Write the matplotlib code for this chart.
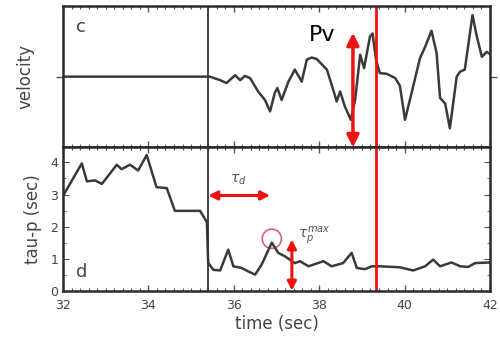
import matplotlib
matplotlib.use("Agg")
import matplotlib.pyplot as plt
from matplotlib.patches import Ellipse
from matplotlib.ticker import MultipleLocator

# ---- data ----
vel_t = [32.0, 35.40, 35.44, 35.68, 35.83, 36.03, 36.15, 36.26, 36.38, 36.57, 36.73, 36.85,
         36.96, 37.02, 37.12, 37.28, 37.43, 37.59, 37.71, 37.82, 37.94, 38.18, 38.33, 38.41,
         38.49, 38.60, 38.74, 38.84, 38.96, 39.05, 39.11, 39.19, 39.25, 39.33, 39.42, 39.58,
         39.78, 39.89, 40.01, 40.20, 40.36, 40.48, 40.63, 40.75, 40.83, 40.95, 41.06, 41.22,
         41.30, 41.41, 41.59, 41.69, 41.81, 41.92, 42.0]
vel_v = [0.0, 0.0, 0.0, -0.05, -0.09, 0.02, -0.05, 0.01, -0.02, -0.21, -0.33, -0.49,
         -0.23, -0.16, -0.33, -0.07, 0.10, -0.07, 0.24, 0.27, 0.25, 0.10, -0.19, -0.35,
         -0.21, -0.42, -0.61, -0.33, 0.31, 0.12, 0.31, 0.57, 0.61, 0.24, 0.05, 0.04,
         -0.02, -0.13, -0.61, -0.14, 0.26, 0.42, 0.65, 0.33, -0.30, -0.38, -0.73, 0.0,
         0.07, 0.10, 0.87, 0.57, 0.28, 0.35, 0.32]

tau_t = [32.0, 32.05, 32.44, 32.56, 32.75, 32.91, 33.26, 33.37, 33.57, 33.76, 33.96, 34.19,
         34.43, 34.62, 35.21, 35.37, 35.40, 35.52, 35.68, 35.87, 35.99, 36.18, 36.34, 36.50,
         36.65, 36.89, 37.04, 37.20, 37.43, 37.55, 37.75, 38.10, 38.29, 38.56, 38.76, 38.88,
         39.07, 39.23, 39.42, 39.89, 40.20, 40.48, 40.67, 40.83, 41.10, 41.30, 41.49, 41.65,
         42.0]
tau_v = [2.95, 3.07, 3.97, 3.41, 3.44, 3.33, 3.93, 3.79, 3.93, 3.75, 4.23, 3.23,
         3.20, 2.49, 2.49, 2.14, 0.87, 0.65, 0.63, 1.28, 0.76, 0.71, 0.60, 0.50,
         0.81, 1.50, 1.18, 1.07, 0.86, 0.92, 0.76, 0.92, 0.76, 0.86, 1.18, 0.71,
         0.67, 0.76, 0.76, 0.73, 0.63, 0.76, 0.97, 0.76, 0.88, 0.76, 0.74, 0.86,
         0.88]

x_ticks = [32, 34, 36, 38, 40, 42]
y_ticks = [0, 1, 2, 3, 4]
t_onset = 35.4
t_red = 39.33
t_pv = 38.79
pv_top, pv_bot = 0.62, -1.0
td_y = 2.97
td_end = 36.85
tp_x = 37.36
tp_top = 1.6
peak_t, peak_tau = 36.89, 1.62

line_col = "#3a3a3a"
red = "#ee1111"

fig = plt.figure(figsize=(5.0, 3.46), dpi=100)
ax1 = fig.add_axes([0.126, 0.574, 0.854, 0.409])
ax2 = fig.add_axes([0.126, 0.159, 0.854, 0.415])

for ax in (ax1, ax2):
    for s in ax.spines.values():
        s.set_linewidth(1.8)
        s.set_color("#2a2a2a")
    ax.set_xlim(32, 42)
    ax.xaxis.set_minor_locator(MultipleLocator(0.2))
    ax.tick_params(axis="x", which="both", direction="in", top=True, bottom=True,
                   color="#555555")
    ax.tick_params(axis="x", which="major", length=4, width=1)
    ax.tick_params(axis="x", which="minor", length=2, width=0.8)

# top panel
ax1.plot(vel_t, vel_v, color=line_col, lw=1.8)
ax1.set_ylim(-1.0, 1.0)
ax1.set_yticks([0])
ax1.set_yticklabels([])
ax1.tick_params(axis="y", direction="out", left=True, right=True, length=5, width=1,
                color="#555555")
ax1.set_xticklabels([])
ax1.axvline(t_onset, color="#333333", lw=1.3)
ax1.axvline(t_red, color=red, lw=2)
ax1.set_ylabel("velocity", fontsize=12, color="#444444", labelpad=12)
ax1.text(0.03, 0.85, "c", transform=ax1.transAxes, fontsize=13, color="#444444",
         ha="left", va="center")
ax1.text(37.75, 0.59, "Pv", fontsize=16, color="black", ha="left", va="center")
ax1.annotate("", xy=(t_pv, pv_top), xytext=(t_pv, pv_bot),
             arrowprops=dict(arrowstyle="<|-|>", color=red, lw=2.5,
                             mutation_scale=18, shrinkA=0, shrinkB=0),
             annotation_clip=False)

# bottom panel
ax2.plot(tau_t, tau_v, color=line_col, lw=1.8)
ax2.set_ylim(-0.01, 4.47)
ax2.set_yticks(y_ticks)
ax2.yaxis.set_minor_locator(MultipleLocator(0.5))
ax2.tick_params(axis="y", which="both", direction="in", left=True, right=True,
                color="#555555", labelsize=9, labelcolor="#444444")
ax2.tick_params(axis="y", which="major", length=4)
ax2.tick_params(axis="y", which="minor", length=2)
ax2.set_xticks(x_ticks)
ax2.tick_params(axis="x", labelsize=9, labelcolor="#444444", pad=6)
ax2.axvline(t_onset, color="#333333", lw=1.3)
ax2.axvline(t_red, color=red, lw=2)
ax2.set_ylabel("tau-p (sec)", fontsize=12, color="#444444", labelpad=6)
ax2.set_xlabel("time (sec)", fontsize=12, color="#444444", labelpad=2)
ax2.text(0.03, 0.13, "d", transform=ax2.transAxes, fontsize=13, color="#444444",
         ha="left", va="center")

ax2.annotate("", xy=(t_onset, td_y), xytext=(td_end, td_y),
             arrowprops=dict(arrowstyle="<|-|>", color=red, lw=2.2,
                             mutation_scale=13, shrinkA=0, shrinkB=0))
ax2.text(35.9, td_y + 0.25, r"$\tau_d$", fontsize=10, color="#555555",
         ha="left", va="bottom")
ax2.annotate("", xy=(tp_x, tp_top), xytext=(tp_x, 0.0),
             arrowprops=dict(arrowstyle="<|-|>", color=red, lw=2.2,
                             mutation_scale=13, shrinkA=0, shrinkB=0))
ax2.text(37.5, 1.75, r"$\tau_p^{max}$", fontsize=10, color="#555555",
         ha="left", va="center")
circ = Ellipse((peak_t, peak_tau), width=0.45, height=0.6, fill=False,
               edgecolor="#e06070", lw=1.2)
ax2.add_patch(circ)

fig.savefig("out.png", dpi=100)
